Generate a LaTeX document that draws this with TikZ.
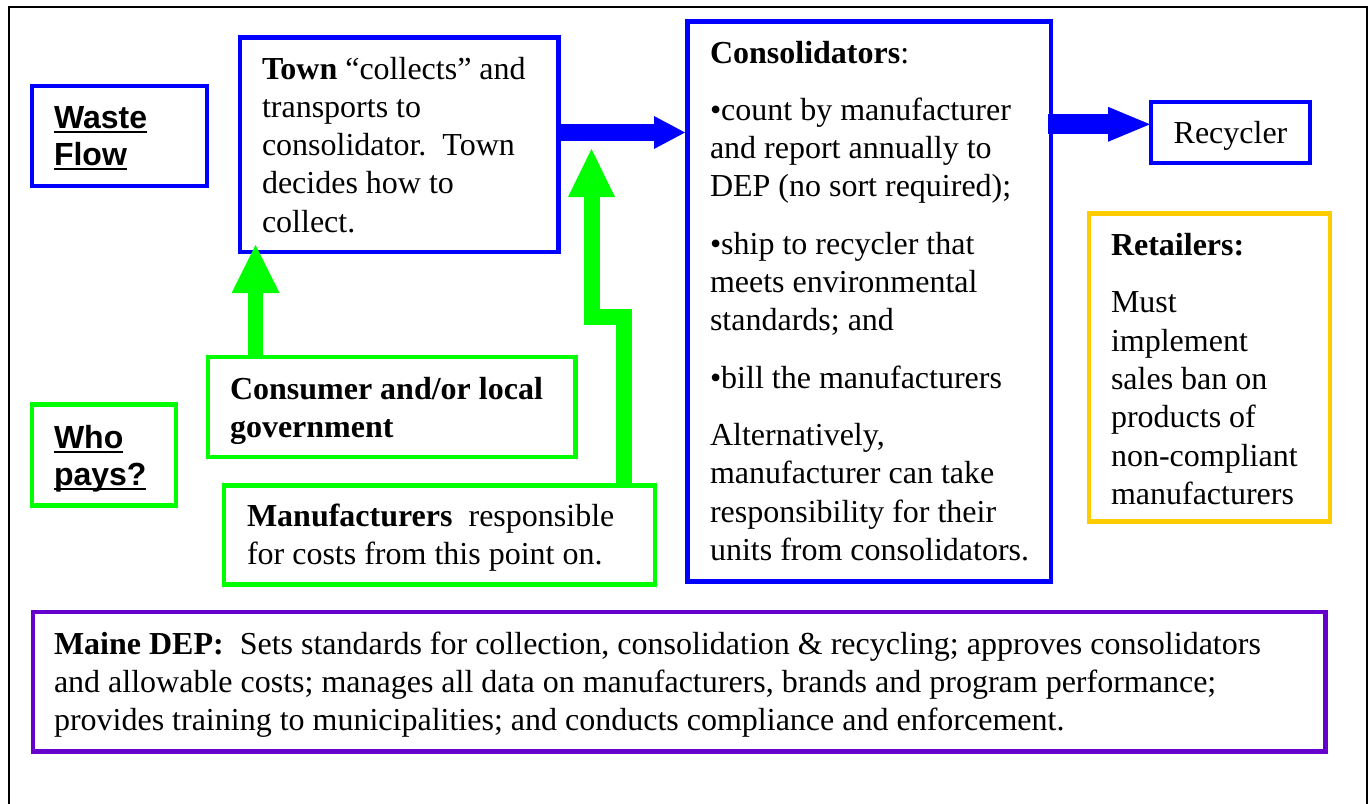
\documentclass[tikz,border=0pt]{standalone}
\usepackage{fontspec}
\setmainfont{Liberation Serif}
\setsansfont{Liberation Sans}
\usetikzlibrary{calc,arrows.meta}
\definecolor{flowblue}{RGB}{0,0,255}
\definecolor{paygreen}{RGB}{0,255,0}
\definecolor{retailgold}{RGB}{255,204,0}
\definecolor{depviolet}{RGB}{102,0,204}
% heading underline at a fixed depth, crossing descenders
\newcommand\headul[1]{\setbox0\hbox{#1}\rlap{\rule[-5.3pt]{\wd0}{2.6pt}}\box0}
\begin{document}
\frenchspacing
\begin{tikzpicture}[x=1pt,y=-1pt,
  box/.style={draw, line width=4.5pt, outer sep=0pt, inner sep=0pt},
  txt/.style={anchor=north west, inner sep=0pt, outer sep=0pt, align=left,
              font=\rmfamily\mdseries\upshape\fontsize{32}{38.3}\selectfont},
  head/.style={anchor=north west, inner sep=0pt, outer sep=0pt, align=left,
              font=\sffamily\bfseries\fontsize{32}{37}\selectfont},
  fat/.style={line width=#1, line cap=butt, line join=miter},
]
\useasboundingbox (0,0) rectangle (1372,803);
% outer frame, open below the page edge
\draw[line width=2pt] (9,7.3) rectangle (1366.7,830);

% boxes
\node[box, draw=flowblue, minimum width=175pt, minimum height=100pt] (waste) at (119.5,136) {};
\node[box, draw=flowblue, minimum width=318.5pt, minimum height=214.5pt] (town) at (399.25,144.75) {};
\node[box, draw=flowblue, minimum width=363.5pt, minimum height=560pt] (cons) at (869.25,301.7) {};
\node[box, draw=flowblue, minimum width=159pt, minimum height=61pt,
      text height=25pt, text depth=4pt, font=\rmfamily\fontsize{32}{38.3}\selectfont] (recycler) at (1230.5,132.5) {Recycler};
\node[box, draw=retailgold, minimum width=241pt, minimum height=308pt] (retail) at (1209.4,367.7) {};
\node[box, draw=paygreen, minimum width=144pt, minimum height=101pt] (who) at (104,455) {};
\node[box, draw=paygreen, minimum width=367.7pt, minimum height=100pt] (consumer) at (391.65,407) {};
\node[box, draw=paygreen, minimum width=431pt, minimum height=99pt] (manuf) at (439.25,535) {};
\node[box, draw=depviolet, minimum width=1292.3pt, minimum height=139.7pt] (maine) at (679.35,681.85) {};

% texts
\node[txt] (towntext) at (262,52.2) {\strut\textbf{Town} “collects” and\\transports to\\consolidator.\ \ Town\\decides how to\\collect.};
\node[txt] (constext) at (710,36.2) {\strut\textbf{Consolidators}:\\[19pt]%
  •count by manufacturer\\and report annually to\\DEP (no sort required);\\[19pt]%
  •ship to recycler that\\meets environmental\\standards; and\\[19pt]%
  •bill the manufacturers\\[19pt]%
  Alternatively,\\manufacturer can take\\responsibility for their\\units from consolidators.};
\node[txt] (retailtext) at (1111,228.2) {\strut\textbf{Retailers:}\\[19.5pt]%
  Must\\implement\\sales ban on\\products of\\non-compliant\\manufacturers};
\node[txt] (consumertext) at (230,372.2) {\strut\textbf{Consumer and/or local}\\\textbf{government}};
\node[txt] (manuftext) at (247,499.2) {\strut\textbf{Manufacturers}\ \ responsible\\for costs from this point on.};
\node[txt] (mainetext) at (54,627.2) {\strut\textbf{Maine DEP:}\ \ Sets standards for collection, consolidation \& recycling; approves consolidators\\and allowable costs; manages all data on manufacturers, brands and program performance;\\provides training to municipalities; and conducts compliance and enforcement.};
\node[head] (wastetext) at (54,102.1) {\strut\headul{Waste}\\\headul{Flow}};
\node[head] (whotext) at (54,422.1) {\strut\headul{Who}\\\headul{pays?}};

% waste flow arrows
\draw[flowblue, fat=17pt, -{Triangle[length=31pt,width=33pt,line width=0pt]}]
  ($(town.north east)+(0,95)$) -- ($(cons.north west)+(-2.5,110.8)$);
\draw[flowblue, fat=20pt, -{Triangle[length=42pt,width=35pt,line width=0pt]}]
  ($(cons.north east)+(-3,102.6)$) -- ($(recycler.west)+(-1,-8.2)$);

% payment arrows
\draw[paygreen, fat=15.5pt, -{Triangle[length=48pt,width=48pt,line width=0pt]}]
  ($(consumer.north west)+(47.7,0)$) -- ($(town.south west)+(15.5,-7)$);
\draw[paygreen, fat=16pt, -{Triangle[length=48pt,width=47pt,line width=0pt]}]
  ($(manuf.north east)+(-30.7,0)$) -- ++(0,-168.5) -| ($(town.east)+(33,4.25)$);
\end{tikzpicture}
\end{document}
